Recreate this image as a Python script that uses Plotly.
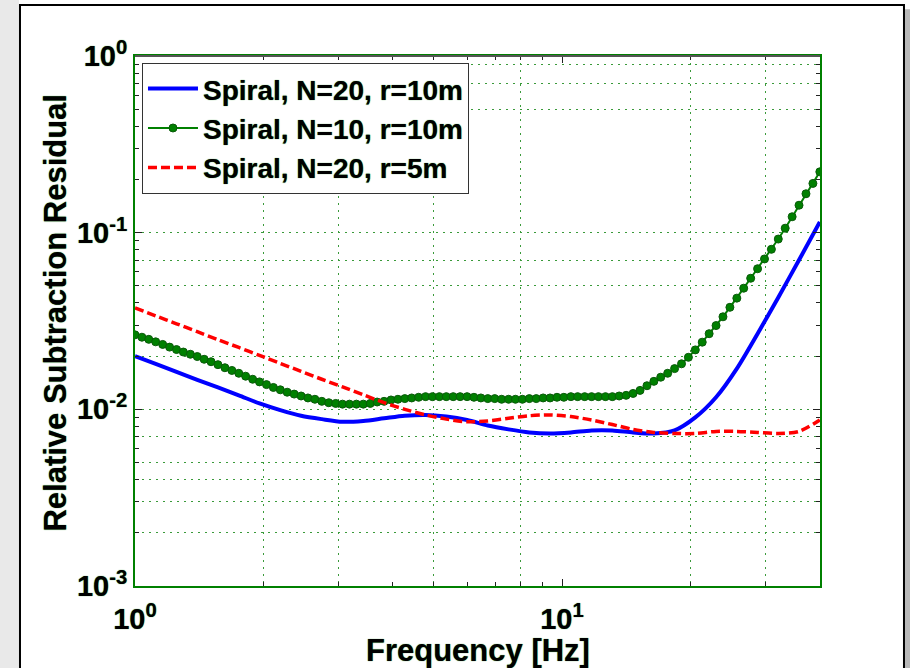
import plotly.graph_objects as go

# ---------------- data ----------------
freq = [1.000, 1.038, 1.077, 1.118, 1.161, 1.205, 1.251, 1.298, 1.348, 1.399,
        1.452, 1.507, 1.564, 1.624, 1.686, 1.750, 1.816, 1.886, 1.957, 2.032,
        2.109, 2.189, 2.272, 2.359, 2.449, 2.541, 2.638, 2.738, 2.843, 2.951,
        3.062, 3.179, 3.300, 3.425, 3.556, 3.690, 3.831, 3.977, 4.128, 4.284,
        4.446, 4.616, 4.791, 4.973, 5.162, 5.358, 5.562, 5.773, 5.993, 6.220,
        6.457, 6.702, 6.957, 7.221, 7.496, 7.780, 8.076, 8.383, 8.702, 9.033,
        9.376, 9.732, 10.10, 10.49, 10.88, 11.30, 11.73, 12.17, 12.64, 13.12,
        13.61, 14.13, 14.67, 15.23, 15.81, 16.41, 17.03, 17.68, 18.35, 19.05,
        19.77, 20.52, 21.30, 22.11, 22.95, 23.82, 24.73, 25.67, 26.64, 27.66,
        28.71, 29.80, 30.93, 32.10, 33.32, 34.59, 35.90, 37.27, 38.69, 40.16]

# Spiral, N=10, r=10m (green, with markers) on freq
green_vals = [0.0264, 0.0256, 0.0249, 0.0241, 0.0233, 0.0225, 0.0218, 0.0211, 0.0205, 0.0199,
              0.0192, 0.0186, 0.0179, 0.0172, 0.0166, 0.0160, 0.0154, 0.0148, 0.0143, 0.0138,
              0.0133, 0.0129, 0.0125, 0.0122, 0.0119, 0.0116, 0.0114, 0.0111, 0.0109, 0.0108,
              0.0107, 0.0107, 0.0107, 0.0107, 0.0108, 0.0110, 0.0111, 0.0113, 0.0114, 0.0115,
              0.0116, 0.0117, 0.0118, 0.0118, 0.0118, 0.0118, 0.0118, 0.0118, 0.0118, 0.0117,
              0.0116, 0.0115, 0.0115, 0.0114, 0.0114, 0.0114, 0.0114, 0.0115, 0.0115, 0.0116,
              0.0116, 0.0117, 0.0117, 0.0118, 0.0118, 0.0118, 0.0118, 0.0118, 0.0118, 0.0118,
              0.0119, 0.0120, 0.0123, 0.0128, 0.0136, 0.0144, 0.0152, 0.0160, 0.0170, 0.0181,
              0.0197, 0.0217, 0.0240, 0.0268, 0.0298, 0.0334, 0.0378, 0.0426, 0.0485, 0.0552,
              0.0625, 0.0710, 0.0805, 0.0920, 0.1060, 0.1230, 0.1430, 0.1660, 0.1900, 0.2210]

# coarser sampling for the two plain lines
freq_c = freq[::3]

# Spiral, N=20, r=10m (blue solid)
blue_vals = [0.0200, 0.0181, 0.0163, 0.0147, 0.0133, 0.0120, 0.0108, 0.0099, 0.0092, 0.0088,
             0.0085, 0.0086, 0.0089, 0.0092, 0.0093, 0.0091, 0.0087, 0.0081, 0.0077, 0.0074,
             0.0073, 0.0074, 0.0076, 0.0076, 0.0074, 0.0073, 0.0076, 0.0090, 0.0117, 0.0170,
             0.0268, 0.0430, 0.0700, 0.1150]

# Spiral, N=20, r=5m (red dashed)
red_vals = [0.0375, 0.0338, 0.0305, 0.0275, 0.0248, 0.0224, 0.0202, 0.0182, 0.0164, 0.0148,
            0.0134, 0.0121, 0.0109, 0.0100, 0.0093, 0.0088, 0.0085, 0.0086, 0.0089, 0.0092,
            0.0093, 0.0091, 0.0087, 0.0082, 0.0077, 0.0074, 0.0073, 0.0073, 0.0075, 0.0075,
            0.0074, 0.0073, 0.0075, 0.0087]

series_names = ["Spiral, N=20, r=10m", "Spiral, N=10, r=10m", "Spiral, N=20, r=5m"]

# axis ticks
x_major = [1, 10]
x_major_text = ["10<sup>0</sup>", "10<sup>1</sup>"]
y_major = [0.001, 0.01, 0.1, 1]
y_major_text = ["10<sup>-3</sup>", "10<sup>-2</sup>", "10<sup>-1</sup>", "10<sup>0</sup>"]
mantissas = [2, 3, 4, 5, 6, 7, 8, 9]
x_minor = [m for m in mantissas] + [20, 30]
y_minor = [m * d for d in (0.001, 0.01, 0.1) for m in mantissas]
# grid lines that are visible in the reference
x_grid = [2, 3, 5, 8, 20, 30]
y_grid = [0.002, 0.003, 0.004, 0.005, 0.007, 0.01, 0.02, 0.05, 0.07, 0.1, 0.5, 0.7, 0.9]

FONT = "Liberation Sans, Arial, sans-serif"
SHADOW = "0px 0px 1px #1f8f1f"
XR = [0, 1.6042]
YR = [-3, 0]

fig = go.Figure()
fig.add_trace(go.Scatter(x=freq_c, y=blue_vals, name=series_names[0], mode="lines",
                         line=dict(color="#0000ff", width=4, shape="spline", smoothing=0.8)))
fig.add_trace(go.Scatter(x=freq, y=green_vals, name=series_names[1], mode="lines+markers",
                         line=dict(color="#008000", width=2),
                         marker=dict(symbol="circle", size=8, color="#008000",
                                     line=dict(color="#0a5a0a", width=1))))
fig.add_trace(go.Scatter(x=freq_c, y=red_vals, name=series_names[2], mode="lines",
                         line=dict(color="#ff0000", width=3.5, dash="9px,4px",
                                   shape="spline", smoothing=0.8)))
# invisible helper trace for the grid-only overlay axes
fig.add_trace(go.Scatter(x=[freq[0]], y=[green_vals[0]], xaxis="x2", yaxis="y2", mode="markers",
                         marker=dict(opacity=0), showlegend=False, hoverinfo="skip"))

tick_common = dict(ticks="inside", tickcolor="#222222", tickwidth=1,
                   showline=True, linecolor="#008000", linewidth=2, mirror="ticks",
                   showgrid=False, zeroline=False)

fig.update_layout(
    width=910, height=668,
    margin=dict(l=135, r=90, t=56, b=82),
    paper_bgcolor="white", plot_bgcolor="white",
    font=dict(family=FONT, size=29, color="black", weight="bold", shadow=SHADOW),
    legend=dict(x=0.0102, y=0.987, xanchor="left", yanchor="top",
                bgcolor="white", bordercolor="#333333", borderwidth=1,
                font=dict(family=FONT, size=28, color="black", weight="bold", shadow=SHADOW),
                itemwidth=50, tracegroupgap=0),
    xaxis=dict(type="log", range=XR, tickmode="array", tickvals=x_major, ticktext=x_major_text,
               ticklen=7, tickfont=dict(size=29), ticklabelstandoff=6,
               minor=dict(tickmode="array", tickvals=x_minor, ticks="inside", ticklen=4,
                          tickcolor="#222222", showgrid=False),
               **tick_common),
    yaxis=dict(type="log", range=YR, tickmode="array", tickvals=y_major, ticktext=y_major_text,
               ticklen=7, tickfont=dict(size=29),
               minor=dict(tickmode="array", tickvals=y_minor, ticks="inside", ticklen=4,
                          tickcolor="#222222", showgrid=False),
               **tick_common),
    xaxis2=dict(type="log", range=XR, overlaying="x", anchor="y2", tickmode="array", tickvals=x_grid,
                showticklabels=False, ticks="", showline=False, zeroline=False,
                showgrid=True, gridcolor="#3a9a3a", gridwidth=1, griddash="2px,5px"),
    yaxis2=dict(type="log", range=YR, overlaying="y", anchor="x2", tickmode="array", tickvals=y_grid,
                showticklabels=False, ticks="", showline=False, zeroline=False,
                showgrid=True, gridcolor="#3a9a3a", gridwidth=1, griddash="2px,5px"),
)

# axis titles
fig.add_annotation(text="Frequency [Hz]", xref="paper", yref="paper", x=0.5, y=-0.122,
                   xanchor="center", yanchor="middle", showarrow=False,
                   font=dict(family=FONT, size=31, color="black", weight="bold", shadow=SHADOW))
fig.add_annotation(text="Relative Subtraction Residual", xref="paper", yref="paper",
                   x=-0.116, y=0.515, textangle=-90, xanchor="center", yanchor="middle",
                   showarrow=False,
                   font=dict(family=FONT, size=31, color="black", weight="bold", shadow=SHADOW))

# figure frame with a soft shadow, and darker top edge of the axes box
fig.add_shape(type="rect", xref="paper", yref="paper", x0=-0.1971, x1=-0.1693, y0=-0.16, y1=1.11,
              fillcolor="#e9e9e9", line=dict(width=0), layer="below")
fig.add_shape(type="rect", xref="paper", yref="paper", x0=1.1241, x1=1.1320, y0=-0.22, y1=1.088,
              fillcolor="#b8b8b8", line=dict(width=0), layer="below")
fig.add_shape(type="rect", xref="paper", yref="paper", x0=-0.1679, x1=1.1226, y0=-0.22, y1=1.0962,
              line=dict(color="black", width=2), fillcolor="rgba(0,0,0,0)")
fig.add_shape(type="line", xref="paper", yref="paper", x0=0, x1=1, y0=1, y1=1,
              line=dict(color="#555555", width=2))

fig.write_html("out.html")
